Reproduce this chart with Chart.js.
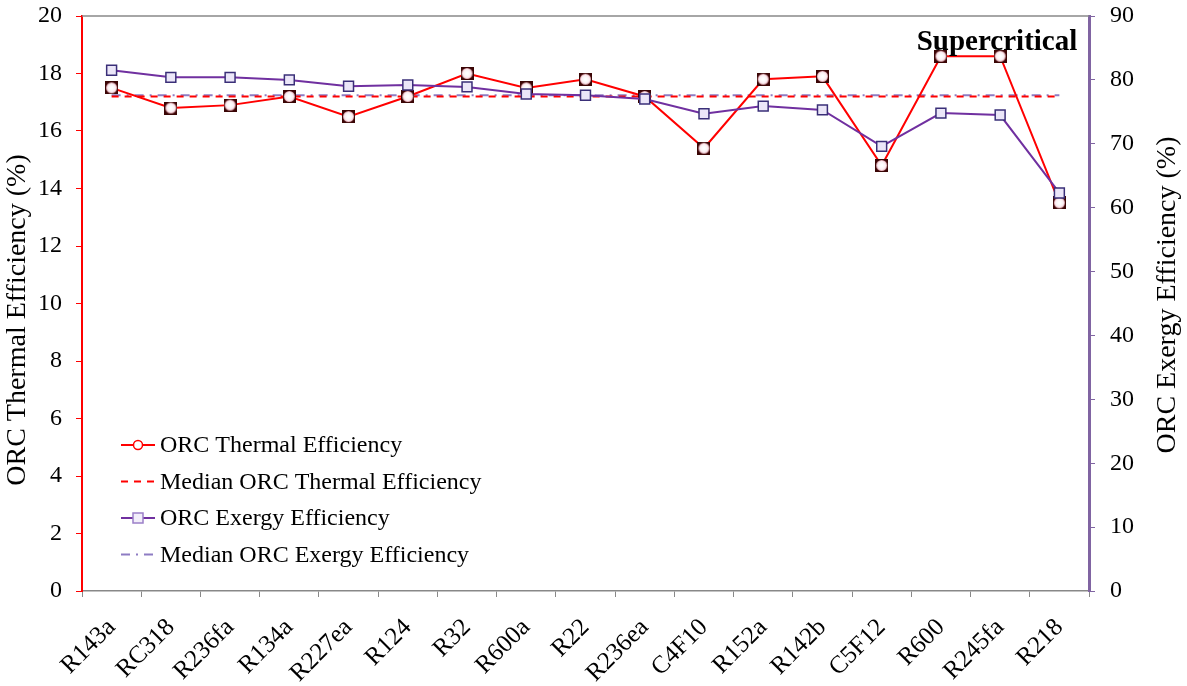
<!DOCTYPE html>
<html>
<head>
<meta charset="utf-8">
<script src="https://cdn.jsdelivr.net/npm/chart.js@4/dist/chart.umd.min.js"></script>
<style>
  html, body { margin: 0; padding: 0; background: #fff; }
  #wrap { width: 1187px; height: 686px; }
</style>
</head>
<body>
<div id="wrap"><canvas id="myChart"></canvas></div>
<script>
var refrigerants = ["R143a", "RC318", "R236fa", "R134a", "R227ea", "R124", "R32", "R600a", "R22",
  "R236ea", "C4F10", "R152a", "R142b", "C5F12", "R600", "R245fa", "R218"];
var thermalEff = [17.5, 16.8, 16.9, 17.2, 16.5, 17.2, 18.0, 17.5, 17.8, 17.2, 15.4, 17.8, 17.9, 14.8, 18.6, 18.6, 13.5];
var exergyEff = [81.5, 80.4, 80.4, 80.0, 79.0, 79.2, 78.9, 77.8, 77.6, 77.0, 74.7, 75.9, 75.3, 69.6, 74.8, 74.5, 62.3];
var medianThermal = 17.2;
var medianExergy = 77.6;
var leftTicks = [0, 2, 4, 6, 8, 10, 12, 14, 16, 18, 20];
var rightTicks = [0, 10, 20, 30, 40, 50, 60, 70, 80, 90];

var serif = "'Liberation Serif', 'Times New Roman', serif";

// marker for the thermal series: dark square with a light round centre
function makeDot() {
  var c = document.createElement('canvas');
  c.width = 13; c.height = 13;
  var g = c.getContext('2d');
  g.fillStyle = '#3a0505';
  g.fillRect(0, 0, 13, 13);
  var grad = g.createRadialGradient(6.5, 6.5, 1, 6.5, 6.5, 6);
  grad.addColorStop(0, '#ffffff');
  grad.addColorStop(0.6, '#fbeef2');
  grad.addColorStop(1, '#d98a98');
  g.fillStyle = grad;
  g.beginPath();
  g.arc(6.5, 6.5, 5.5, 0, Math.PI * 2);
  g.fill();
  return c;
}

var legendItems = [
  { text: "ORC Thermal Efficiency", color: "#ff0000", dash: [], marker: "circle" },
  { text: "Median ORC Thermal Efficiency", color: "#ff0000", dash: [7, 6], marker: null },
  { text: "ORC Exergy Efficiency", color: "#7030a0", dash: [], marker: "square" },
  { text: "Median ORC Exergy Efficiency", color: "#8e7cc3", dash: [9, 6, 2, 6], marker: null }
];

var extras = {
  id: 'extras',
  beforeDatasetsDraw: function(chart) {
    var ctx = chart.ctx, a = chart.chartArea;
    ctx.save();
    ctx.strokeStyle = '#888';
    ctx.lineWidth = 1.5;
    ctx.beginPath();
    ctx.moveTo(a.left, a.top);
    ctx.lineTo(a.right, a.top);
    ctx.stroke();
    ctx.restore();
  },
  afterDraw: function(chart) {
    var ctx = chart.ctx;
    ctx.save();
    // legend
    ctx.font = "24px " + serif;
    ctx.textBaseline = 'middle';
    ctx.textAlign = 'left';
    legendItems.forEach(function(it, i) {
      var y = 445 + i * 36.5;
      ctx.strokeStyle = it.color;
      ctx.lineWidth = 2;
      ctx.setLineDash(it.dash);
      ctx.beginPath();
      ctx.moveTo(121, y);
      ctx.lineTo(155, y);
      ctx.stroke();
      ctx.setLineDash([]);
      if (it.marker === 'circle') {
        ctx.fillStyle = '#fff';
        ctx.lineWidth = 1.5;
        ctx.beginPath();
        ctx.arc(138, y, 4.5, 0, Math.PI * 2);
        ctx.fill();
        ctx.stroke();
      } else if (it.marker === 'square') {
        ctx.fillStyle = '#f2eefa';
        ctx.strokeStyle = '#9b7fc8';
        ctx.lineWidth = 1.5;
        ctx.fillRect(133, y - 5, 10, 10);
        ctx.strokeRect(133, y - 5, 10, 10);
      }
      ctx.fillStyle = '#000';
      ctx.fillText(it.text, 160, y + 1);
    });
    // axis titles, both read bottom to top
    ctx.font = "28px " + serif;
    ctx.textAlign = 'center';
    ctx.textBaseline = 'alphabetic';
    ctx.save();
    ctx.translate(25, 320);
    ctx.rotate(-Math.PI / 2);
    ctx.fillText("ORC Thermal Efficiency (%)", 0, 0);
    ctx.restore();
    ctx.save();
    ctx.translate(1175, 295);
    ctx.rotate(-Math.PI / 2);
    ctx.fillText("ORC Exergy Efficiency (%)", 0, 0);
    ctx.restore();
    // annotation
    ctx.font = "bold 29px " + serif;
    ctx.textAlign = 'center';
    ctx.fillText("Supercritical", 997, 50);
    ctx.restore();
  }
};

var ctx = document.getElementById("myChart").getContext("2d");
var myChart = new Chart(ctx, {
  type: 'line',
  data: {
    labels: refrigerants,
    datasets: [
      {
        label: 'ORC Thermal Efficiency',
        data: thermalEff,
        yAxisID: 'y',
        borderColor: '#ff0000',
        borderWidth: 2,
        pointStyle: makeDot(),
        pointRadius: 6,
        order: 2
      },
      {
        label: 'Median ORC Thermal Efficiency',
        data: refrigerants.map(function() { return medianThermal; }),
        yAxisID: 'y',
        borderColor: '#ff0000',
        borderWidth: 2,
        borderDash: [7, 6],
        pointRadius: 0,
        order: 3
      },
      {
        label: 'ORC Exergy Efficiency',
        data: exergyEff,
        yAxisID: 'y1',
        borderColor: '#7030a0',
        borderWidth: 2,
        pointStyle: 'rect',
        pointRadius: 7,
        pointBackgroundColor: '#ebe6f8',
        pointBorderColor: '#3a2f78',
        pointBorderWidth: 1.5,
        order: 1
      },
      {
        label: 'Median ORC Exergy Efficiency',
        data: refrigerants.map(function() { return medianExergy; }),
        yAxisID: 'y1',
        borderColor: '#8e7cc3',
        borderWidth: 2,
        borderDash: [9, 6, 2, 6],
        pointRadius: 0,
        order: 4
      }
    ]
  },
  options: {
    responsive: true,
    maintainAspectRatio: false,
    animation: false,
    layout: { padding: { top: 16, left: 0, right: 0, bottom: 0 } },
    plugins: {
      legend: { display: false },
      tooltip: { enabled: false }
    },
    scales: {
      x: {
        offset: true,
        grid: { offset: true, drawOnChartArea: false, drawTicks: true, tickLength: 6, color: '#888' },
        border: { color: '#888', width: 1.5 },
        ticks: {
          color: '#000',
          font: { family: serif, size: 25 },
          minRotation: 45,
          maxRotation: 45,
          padding: 16,
          autoSkip: false
        },
        afterFit: function(s) { s.height = 95; s.paddingLeft = 0; s.paddingRight = 0; }
      },
      y: {
        position: 'left',
        min: 0,
        max: 20,
        afterBuildTicks: function(s) { s.ticks = leftTicks.map(function(v) { return { value: v }; }); },
        grid: { drawOnChartArea: false, drawTicks: true, tickLength: 6, color: '#ff0000' },
        border: { color: '#ff0000', width: 2 },
        ticks: { color: '#000', font: { family: serif, size: 24 }, padding: 14 },
        afterFit: function(s) { s.width = 82; s.paddingTop = 0; s.paddingBottom = 0; }
      },
      y1: {
        position: 'right',
        min: 0,
        max: 90,
        afterBuildTicks: function(s) { s.ticks = rightTicks.map(function(v) { return { value: v }; }); },
        grid: { drawOnChartArea: false, drawTicks: true, tickLength: 6, color: '#8064a2' },
        border: { color: '#8064a2', width: 3 },
        ticks: { color: '#000', font: { family: serif, size: 24 }, padding: 15 },
        afterFit: function(s) { s.width = 98; s.paddingTop = 0; s.paddingBottom = 0; }
      }
    }
  },
  plugins: [extras]
});
</script>
</body>
</html>
